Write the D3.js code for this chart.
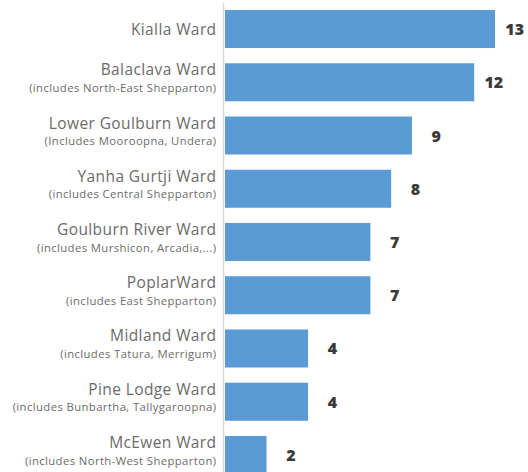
<!DOCTYPE html>
<html>
<head>
<meta charset="utf-8">
<style>
  body { margin: 0; background: #fff; }
  svg { display: block; }
</style>
</head>
<body>
<svg width="528" height="472"></svg>
<script src="https://d3js.org/d3.v7.min.js"></script>
<script>
// data
const wards = ["Kialla Ward", "Balaclava Ward", "Lower Goulburn Ward", "Yanha Gurtji Ward",
  "Goulburn River Ward", "PoplarWard", "Midland Ward", "Pine Lodge Ward", "McEwen Ward"];
const subtitles = ["", "(includes North-East Shepparton)", "(Includes Mooroopna, Undera)",
  "(includes Central Shepparton)", "(includes Murshicon, Arcadia,...)", "(includes East Shepparton)",
  "(includes Tatura, Merrigum)", "(includes Bunbartha, Tallygaroopna)", "(includes North-West Shepparton)"];
const counts = [13, 12, 9, 8, 7, 7, 4, 4, 2];

const svg = d3.select("svg"),
    width = +svg.attr("width"),
    height = +svg.attr("height");

const x0 = 225;
const x = d3.scaleLinear().domain([0, 13]).range([x0, 495]);
const y = d3.scaleBand().domain(wards).range([2.4, 481.6]).paddingInner(0.286).paddingOuter(0.143);

// axis line
svg.append("line")
    .attr("x1", 223.5).attr("x2", 223.5)
    .attr("y1", 3).attr("y2", height)
    .attr("stroke", "#d9d9d9").attr("stroke-width", 1.5);

// bars
svg.append("g").selectAll("rect")
  .data(wards)
  .join("rect")
    .attr("x", x(0))
    .attr("y", d => y(d))
    .attr("width", (d, i) => x(counts[i]) - x(0))
    .attr("height", y.bandwidth())
    .attr("fill", "#5b9bd5");

// value labels
svg.append("g").selectAll("text")
  .data(wards)
  .join("text")
    .attr("x", (d, i) => x(counts[i]) + 29)
    .attr("y", d => y(d) + y.bandwidth() / 2 + 6)
    .attr("text-anchor", "end")
    .style("font-family", "'Open Sans', sans-serif")
    .style("font-weight", "800")
    .style("font-size", "16px")
    .attr("fill", "#3a3a3a")
    .text((d, i) => counts[i]);

// category labels (name + smaller subtitle line)
const lab = svg.append("g").selectAll("g")
  .data(wards)
  .join("g")
    .attr("transform", d => "translate(216.5," + (y(d) + y.bandwidth() / 2) + ")");

lab.append("text")
    .attr("y", (d, i) => subtitles[i] ? -7 : 5.5)
    .attr("text-anchor", "end")
    .style("font-family", "'Open Sans', sans-serif")
    .style("font-size", "15.5px")
    .style("letter-spacing", "0.4px")
    .attr("fill", "#6b6b6b")
    .text(d => d);

lab.append("text")
    .attr("y", 9.6)
    .attr("text-anchor", "end")
    .style("font-family", "'Open Sans', sans-serif")
    .style("font-size", "11.3px")
    .style("letter-spacing", "0.4px")
    .attr("fill", "#6b6b6b")
    .text((d, i) => subtitles[i]);
</script>
</body>
</html>
